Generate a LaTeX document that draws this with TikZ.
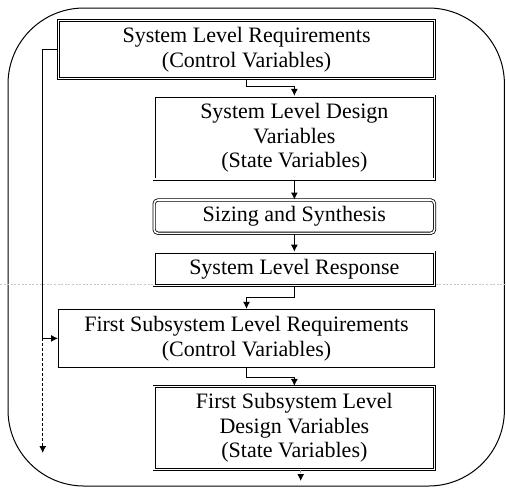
\documentclass[tikz,border=0pt]{standalone}
\usepackage{fontspec}
\setmainfont{Liberation Serif}
\usetikzlibrary{arrows.meta, positioning}

\begin{document}
\begin{tikzpicture}[
  node distance=9pt,
  box/.style={rectangle, draw, double, double distance=0.8pt, line width=0.4pt,
    minimum width=#1, minimum height=16pt, align=center, font=\fontsize{11}{12.4}\selectfont},
  plainbox/.style={rectangle, draw, line width=0.5pt, minimum width=188pt,
    minimum height=27.5pt, align=center, font=\fontsize{11}{12.4}\selectfont},
  flow/.style={-{Latex[length=3.5pt,width=3.5pt,black]}, line width=0.5pt},
  later/.style={flow, dash pattern=on 1.5pt off 1pt}
]
\useasboundingbox (0,0) rectangle (253pt,-243.5pt);

% frame and level separator
\draw[line width=0.5pt, rounded corners=38pt] (4pt,-4pt) rectangle (252.2pt,-243pt);
\draw[gray!45, line width=0.3pt, dash pattern=on 1pt off 0.8pt] (0,-142pt) -- (253pt,-142pt);

\node[box=188pt, minimum height=27.5pt, anchor=north east] (sysreq) at (217.5pt,-10pt) {System Level Requirements\\(Control Variables)};
\node[box=140.25pt, minimum height=40.5pt, below=8.5pt of sysreq.south east, anchor=north east] (sysdes) {System Level Design\\Variables\\(State Variables)};
\node[box=140.25pt, rounded corners=2pt, below=10pt of sysdes.south east, anchor=north east] (sizing) {Sizing and Synthesis};
\node[box=140.25pt, below=9pt of sizing.south east, anchor=north east] (sysresp) {System Level Response};

% first subsystem level
\node[plainbox, below=11.5pt of sysresp.south east, anchor=north east] (subreq) {First Subsystem Level Requirements\\(Control Variables)};
\node[box=140.25pt, minimum height=41.5pt, below=9pt of subreq.south east, anchor=north east] (subdes) {First Subsystem Level\\Design Variables\\(State Variables)};

\coordinate (loopend) at (21.35pt,-226.5pt);
\coordinate (subend) at (150.35pt,-240.5pt);

\draw[flow] (sysreq.south) -- ++(0,-3.8pt) -| (sysdes.north);
\draw[flow] (sysdes) -- (sizing);
\draw[flow] (sizing) -- (sysresp);
\draw[flow] (sysresp.south) -- ++(0,-5.8pt) -| (subreq.north);
\draw[flow] (subreq.south) -- ++(0,-4.7pt) -| (subdes.north);

% requirements feed down the levels
\draw[flow] (sysreq.west) -- (loopend |- sysreq.west) |- (subreq.west);
\draw[later] (loopend |- subreq.west) -- (loopend);
\draw[later, gray!80] (subdes.south -| subend) -- (subend);
\end{tikzpicture}
\end{document}
